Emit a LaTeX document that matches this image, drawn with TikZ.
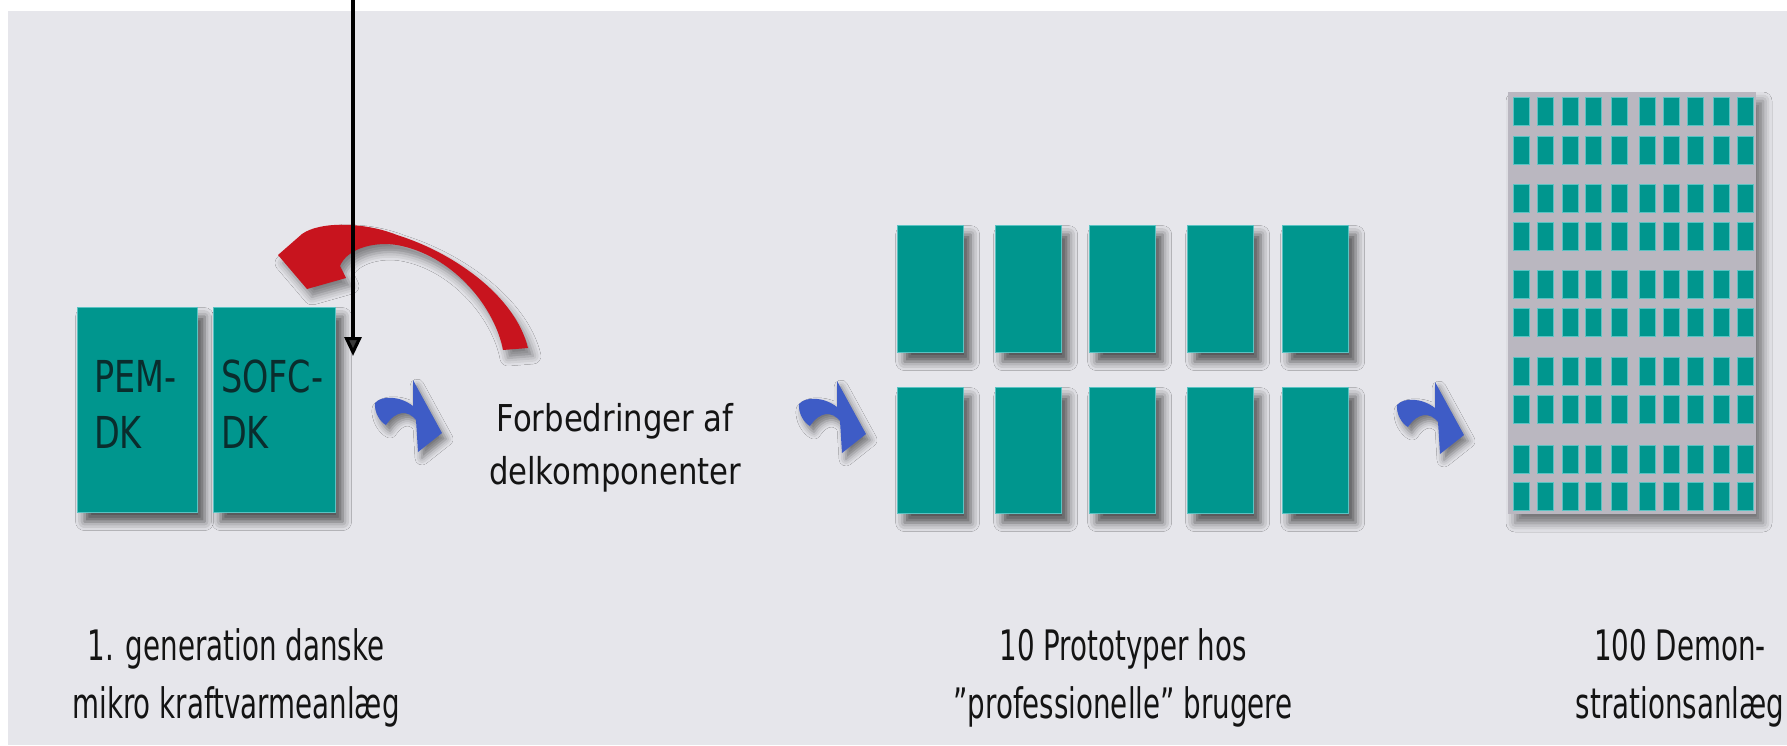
\documentclass[tikz,border=0pt]{standalone}
\usepackage{fontspec}
\setmainfont{DejaVu Sans}
\newfontfamily\midfont[FakeStretch=0.83]{DejaVu Sans}
\newfontfamily\botfont[FakeStretch=0.66]{DejaVu Sans}
\newfontfamily\boxfont[FakeStretch=0.76]{DejaVu Sans}
\usetikzlibrary{arrows.meta,shadows.blur}
\definecolor{panel}{RGB}{230,230,235}
\definecolor{tealfill}{RGB}{0,150,142}
\definecolor{tealedge}{RGB}{90,195,195}
\definecolor{arrowblue}{RGB}{62,92,198}
\definecolor{arrowred}{RGB}{200,20,30}
\definecolor{gridbg}{RGB}{186,183,192}
\definecolor{txt}{RGB}{20,20,20}
\definecolor{boxtxt}{RGB}{10,45,45}
\begin{document}
\begin{tikzpicture}[x=1pt,y=-1pt,
  softshadow/.style={blur shadow={shadow xshift=7pt, shadow yshift=-9pt, shadow blur radius=9pt, shadow opacity=65}},
  tealbox/.style={draw=tealedge, line width=1.2pt, fill=tealfill, inner sep=0pt, anchor=north west, softshadow},
  smallbox/.style={draw=tealedge, line width=1pt, fill=tealfill, inner sep=0pt, anchor=north west, minimum width=16pt, minimum height=28pt},
  boxlbl/.style={font=\boxfont\fontsize{44pt}{56pt}\selectfont, text=boxtxt, align=left, inner sep=0pt, anchor=base west},
  midlbl/.style={font=\midfont\fontsize{37pt}{53pt}\selectfont, text=txt, align=center, inner sep=0pt, anchor=base},
  botlbl/.style={font=\botfont\fontsize{42pt}{58pt}\selectfont, text=txt, align=center, inner sep=0pt, anchor=base},
  bluearrow/.pic={\fill[arrowblue, blur shadow={shadow xshift=4pt, shadow yshift=-6pt, shadow blur radius=7pt, shadow opacity=50}]
     (15,33) .. controls (22,25) and (40,26) .. (53,36) -- (53,10) -- (82,63) -- (58,82) -- (56,50)
     .. controls (48,40) and (36,40) .. (26,55) .. controls (20,52) and (14,42) .. cycle;}
]
\useasboundingbox (0,0) rectangle (1787,745);
\fill[white] (0,0) rectangle (1787,745);
\fill[panel] (8,11) rectangle (1787,745);

% first generation boxes
\node[tealbox, minimum width=120pt, minimum height=205pt] (pem) at (77,307) {};
\node[tealbox, minimum width=122pt, minimum height=205pt] (sofc) at (213,307) {};
\node[boxlbl] (pemlbl) at (94,448) {PEM-\\DK};
\node[boxlbl] (sofclbl) at (221,448) {SOFC-\\DK};

% red feedback arrow
\fill[arrowred, blur shadow={shadow xshift=5pt, shadow yshift=-8pt, shadow blur radius=8pt, shadow opacity=45}]
  (278,255) -- (302,234) .. controls (320,221) and (365,222) .. (397,235)
  .. controls (452,252) and (515,295) .. (528,348) -- (503,350)
  .. controls (495,308) and (455,258) .. (402,246)
  .. controls (377,240) and (347,248) .. (340,266) -- (346,278) -- (307,289) -- cycle;

% black arrow
\coordinate (btop) at (353,0);
\coordinate (btip) at (353,356);
\draw[line width=3.2pt, -{Triangle[width=17pt,length=19pt]}] (btop) -- (btip);

% blue arrows
\pic at (360,370) {bluearrow};
\pic at (784,371) {bluearrow};
\pic at (1382,372) {bluearrow};

% middle text
\node[midlbl] (mid) at (615,484) {Forbedringer af\\delkomponenter};

% ten prototypes
\foreach \x [count=\i] in {897,995,1089,1187,1282} {
  \node[tealbox, minimum width=66pt, minimum height=127pt] (pt\i) at (\x,225) {};
  \node[tealbox, minimum width=66pt, minimum height=126pt] (pb\i) at (\x,387) {};
}

% hundred demonstration plants
\fill[gridbg, blur shadow={shadow xshift=7pt, shadow yshift=-9pt, shadow blur radius=9pt, shadow opacity=50}] (1508,92) rectangle (1756,514);
\foreach \y [count=\r] in {97,136,184,222,270,308,357,395,445,482} {
  \foreach \x [count=\c] in {1513,1537,1562,1585,1611,1639,1663,1687,1713,1737} {
    \node[smallbox] (d\r-\c) at (\x,\y) {};
  }
}

% bottom labels
\node[botlbl] (gen1) at (236,718) {1. generation danske\\mikro kraftvarmeanlæg};
\node[botlbl] (proto) at (1123,718) {10 Prototyper hos\\”professionelle” brugere};
\node[botlbl] (demo) at (1680,718) {100 Demon-\\strationsanlæg};
\end{tikzpicture}
\end{document}
